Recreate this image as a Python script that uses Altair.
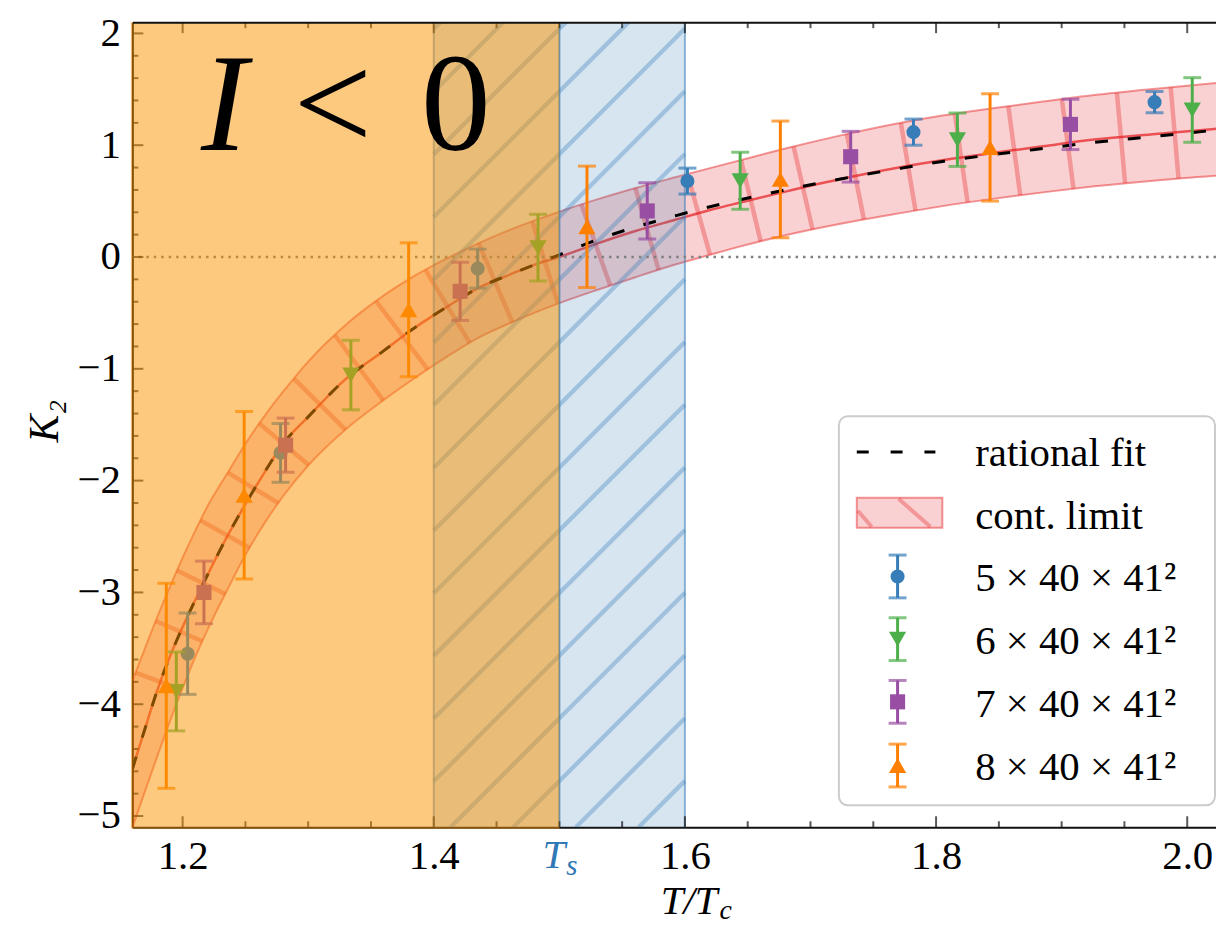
import numpy as np
import pandas as pd
import altair as alt

# ---------------- values ----------------
series_names = ["5 × 40 × 41²", "6 × 40 × 41²", "7 × 40 × 41²", "8 × 40 × 41²"]
series_colors = ["#377eb8", "#4daf4a", "#984ea3", "#ff7f00"]
series_shapes = ["circle", "triangle-down", "square", "triangle-up"]
series_sizes = [200, 300, 230, 300]

temp_5 = [1.204, 1.278, 1.435, 1.602, 1.782, 1.974]
k2_5 = [-3.548, -1.752, -0.104, 0.679, 1.117, 1.385]
err_5 = [0.364, 0.263, 0.175, 0.116, 0.117, 0.095]

temp_6 = [1.195, 1.334, 1.483, 1.644, 1.817, 2.004]
k2_6 = [-3.885, -1.056, 0.084, 0.682, 1.049, 1.315]
err_6 = [0.353, 0.311, 0.298, 0.255, 0.239, 0.289]

temp_7 = [1.217, 1.282, 1.421, 1.570, 1.732, 1.907]
k2_7 = [-3.000, -1.683, -0.307, 0.412, 0.897, 1.186]
err_7 = [0.280, 0.242, 0.260, 0.252, 0.227, 0.225]

temp_8 = [1.187, 1.249, 1.380, 1.522, 1.676, 1.843]
k2_8 = [-3.835, -2.131, -0.472, 0.270, 0.694, 0.980]
err_8 = [0.917, 0.749, 0.599, 0.543, 0.522, 0.480]

# continuum-limit band (centre, upper, lower) and rational fit
band_x = [1.16, 1.17, 1.18, 1.19, 1.20, 1.21, 1.22, 1.235, 1.25, 1.265, 1.28, 1.30,
          1.33, 1.36, 1.38, 1.41, 1.435, 1.46, 1.48, 1.50, 1.53, 1.56, 1.593, 1.62,
          1.645, 1.68, 1.725, 1.765, 1.805, 1.845, 1.885, 1.926, 1.975, 2.027]
band_mid = [-4.58, -4.22, -3.87, -3.57, -3.31, -3.07, -2.84, -2.51, -2.21, -1.93, -1.67, -1.43,
            -1.09, -0.84, -0.67, -0.45, -0.28, -0.16, -0.07, 0.0, 0.12, 0.23, 0.335, 0.42,
            0.49, 0.585, 0.70, 0.79, 0.865, 0.93, 0.99, 1.05, 1.10, 1.15]
band_hi = [-3.79, -3.50, -3.215, -2.945, -2.69, -2.45, -2.225, -1.945, -1.67, -1.425, -1.205,
           -0.935, -0.605, -0.345, -0.20, -0.015, 0.12, 0.24, 0.325, 0.405, 0.515, 0.615,
           0.715, 0.795, 0.868, 0.97, 1.09, 1.185, 1.265, 1.33, 1.39, 1.448, 1.505, 1.56]
band_lo = [-5.105, -4.78, -4.46, -4.15, -3.855, -3.58, -3.33, -2.99, -2.665, -2.385, -2.14,
           -1.865, -1.54, -1.28, -1.12, -0.895, -0.725, -0.595, -0.50, -0.413, -0.295, -0.183,
           -0.065, 0.02, 0.097, 0.195, 0.30, 0.38, 0.455, 0.52, 0.578, 0.632, 0.685, 0.73]
fit_x = band_x
fit_y = [-4.58, -4.22, -3.87, -3.57, -3.31, -3.07, -2.84, -2.51, -2.21, -1.93, -1.67, -1.43,
         -1.09, -0.84, -0.67, -0.45, -0.28, -0.16, -0.07, 0.02, 0.155, 0.265, 0.37, 0.45,
         0.515, 0.60, 0.70, 0.78, 0.855, 0.915, 0.97, 1.025, 1.08, 1.14]

T_s = 1.5
span_lo, span_hi = 1.4, 1.6
x_tick_labels = [1.2, 1.4, 1.6, 1.8, 2.0]
x_minor = [1.25, 1.3, 1.35, 1.45, 1.5, 1.55, 1.65, 1.7, 1.75, 1.85, 1.9, 1.95]
y_tick_labels = [-5, -4, -3, -2, -1, 0, 1, 2]
y_minor = [round(-5 + 0.2 * i, 1) for i in range(36) if i % 5 != 0]

legend_labels = ["rational fit", "cont. limit"] + series_names

# ---------------- layout ----------------
FONT = "Liberation Serif"
FS = 41
W, H = 1089, 809
PAD_L, PAD_T = 125, 12
OX, OY = 8 + PAD_L, 8 + PAD_T          # page position of the plot origin
XDOM = [1.16, 1.16 + W / 1262.0]
YDOM = [-5.1, 2.1]


def px_x(v):
    return (np.asarray(v, float) - XDOM[0]) / (XDOM[1] - XDOM[0]) * W


def px_y(v):
    return (YDOM[1] - np.asarray(v, float)) / (YDOM[1] - YDOM[0]) * H


def dx(p):
    return float(XDOM[0] + p / W * (XDOM[1] - XDOM[0]))


def dy(p):
    return float(YDOM[1] - p / H * (YDOM[1] - YDOM[0]))


xs = alt.Scale(domain=XDOM, nice=False, zero=False)
ys = alt.Scale(domain=YDOM, nice=False, zero=False)


def X(f, axis=None):
    return alt.X(f, type="quantitative", scale=xs, axis=axis)


def Y(f, axis=None):
    return alt.Y(f, type="quantitative", scale=ys, axis=axis)


# ---------------- hatch geometry (decoration) ----------------
def band_hatch(spacing=54.0, ref=(886.0, 126.0)):
    bx = np.asarray(band_x)
    dense = np.linspace(bx[0], bx[-1], 4000)
    mx, my = px_x(dense), px_y(np.interp(dense, bx, band_mid))
    ux, uy = px_x(dense), px_y(np.interp(dense, bx, band_hi))
    lx, ly = px_x(dense), px_y(np.interp(dense, bx, band_lo))
    s = np.concatenate([[0.0], np.cumsum(np.hypot(np.diff(mx), np.diff(my)))])
    iref = int(np.argmin(np.hypot(mx - ref[0], my - ref[1])))
    phase = s[iref] % spacing

    def cross(ex, ey, P, T):
        d = (ex - P[0]) * T[0] + (ey - P[1]) * T[1]
        idx = np.where(np.sign(d[:-1]) != np.sign(d[1:]))[0]
        if len(idx) == 0:
            return None
        j = min(idx, key=lambda k: np.hypot(ex[k] - P[0], ey[k] - P[1]))
        t = d[j] / (d[j] - d[j + 1])
        return ex[j] + t * (ex[j + 1] - ex[j]), ey[j] + t * (ey[j + 1] - ey[j])

    rows = []
    for sk in np.arange(phase, s[-1], spacing):
        i = int(np.clip(np.searchsorted(s, sk), 1, len(s) - 2))
        P = (mx[i], my[i])
        T = np.array([mx[i + 1] - mx[i - 1], my[i + 1] - my[i - 1]])
        T = T / np.hypot(*T)
        a = cross(ux, uy, P, T)
        b = cross(lx, ly, P, T)
        if a is None or b is None:
            continue
        rows.append({"x": dx(a[0]), "y": dy(a[1]), "x2": dx(b[0]), "y2": dy(b[1])})
    return pd.DataFrame(rows)


def rect_hatch(xa, xb, c0=498.7, step=63.0):
    pa, pb = float(px_x(xa)), float(px_x(xb))
    rows = []
    k0 = int(np.floor((pa - c0) / step)) - 1
    k1 = int(np.ceil((pb + H - c0) / step)) + 1
    for k in range(k0, k1 + 1):
        c = c0 + k * step
        lo, hi = max(pa, c - H), min(pb, c)
        if hi - lo > 1:
            rows.append({"x": dx(lo), "y": dy(c - lo), "x2": dx(hi), "y2": dy(c - hi)})
    return pd.DataFrame(rows)


# ---------------- axes ----------------
bottom_axis = alt.Axis(orient="bottom", values=x_tick_labels, format=".1f", ticks=False,
                       domain=True, domainColor="#111111", domainWidth=2, grid=False,
                       labelFont=FONT, labelFontSize=FS, labelColor="black", labelPadding=9,
                       labelOverlap=False, labelFlush=False, title=None)
top_axis = alt.Axis(orient="top", labels=False, ticks=False, domain=True, domainColor="#111111",
                    domainWidth=2, grid=False, title=None, zindex=1)
left_axis = alt.Axis(orient="left", values=y_tick_labels, format="d", ticks=False, domain=True,
                     domainColor="#111111", domainWidth=2, grid=False, labelFont=FONT,
                     labelFontSize=FS, labelColor="black", labelPadding=12, labelOverlap=False,
                     labelFlush=False, title="K₂", titleFont=FONT, titleFontSize=42,
                     titleFontStyle="italic", titleFontWeight="normal", titleColor="black",
                     titleX=-88, titleY=H / 2 - 4, titleAngle=270, titleAlign="center",
                     titleBaseline="middle")

# ---------------- layers ----------------
band_df = pd.DataFrame({"x": band_x, "lo": band_lo, "hi": band_hi, "mid": band_mid})
fit_df = pd.DataFrame({"x": fit_x, "y": fit_y})

layers = []
layers.append(alt.Chart(band_df).mark_area(color="#e41a1c", opacity=0.2, interpolate="monotone",
                                            clip=True)
              .encode(x=X("x", bottom_axis), y=Y("lo", left_axis), y2="hi"))
for col in ["hi", "lo"]:
    layers.append(alt.Chart(band_df).mark_line(color="#e41a1c", opacity=0.45, strokeWidth=2,
                                                interpolate="monotone", clip=True)
                  .encode(x=X("x"), y=Y(col)))
layers.append(alt.Chart(band_hatch()).mark_rule(color="#e41a1c", opacity=0.32, strokeWidth=4.5,
                                                 clip=True)
              .encode(x=X("x"), y=Y("y"), x2="x2", y2="y2"))
layers.append(alt.Chart(band_df).mark_line(color="#e41a1c", opacity=0.7, strokeWidth=2.5,
                                            interpolate="monotone", clip=True)
              .encode(x=X("x"), y=Y("mid")))

# blue span between 1.4 and 1.6
span_df = pd.DataFrame({"x": [span_lo], "x2": [span_hi], "y": [YDOM[0]], "y2": [YDOM[1]]})
layers.append(alt.Chart(span_df).mark_rect(color="#377eb8", opacity=0.2)
              .encode(x=X("x"), x2="x2", y=Y("y"), y2="y2"))
layers.append(alt.Chart(rect_hatch(span_lo, span_hi)).mark_rule(color="#377eb8", opacity=0.35,
                                                                 strokeWidth=4.3, clip=True)
              .encode(x=X("x"), y=Y("y"), x2="x2", y2="y2"))
layers.append(alt.Chart(pd.DataFrame({"x": [span_lo, span_hi]}))
              .mark_rule(color="#377eb8", opacity=0.55, strokeWidth=2).encode(x=X("x")))

# zero line and rational fit
layers.append(alt.Chart(pd.DataFrame({"y": [0.0]}))
              .mark_rule(color="#808080", strokeDash=[2.5, 5], strokeWidth=2.3).encode(y=Y("y")))
layers.append(alt.Chart(fit_df).mark_line(color="black", strokeDash=[13, 20], strokeWidth=3,
                                           interpolate="monotone", clip=True)
              .encode(x=X("x"), y=Y("y")))

# data with error bars
all_sets = [(temp_5, k2_5, err_5), (temp_6, k2_6, err_6), (temp_7, k2_7, err_7),
            (temp_8, k2_8, err_8)]
for (tx, ky, ee), col, shp, sz in zip(all_sets, series_colors, series_shapes, series_sizes):
    df = pd.DataFrame({"x": tx, "y": ky, "lo": np.array(ky) - np.array(ee),
                       "hi": np.array(ky) + np.array(ee)})
    base = alt.Chart(df)
    layers.append(base.mark_rule(color=col, strokeWidth=3).encode(x=X("x"), y=Y("lo"), y2="hi"))
    for c in ["lo", "hi"]:
        layers.append(base.mark_tick(orient="horizontal", size=18, thickness=3, color=col)
                      .encode(x=X("x"), y=Y(c)))
    layers.append(base.mark_point(shape=shp, size=sz, filled=True, color=col, opacity=1)
                  .encode(x=X("x"), y=Y("y")))

# T_s line (carries the top frame axis)
layers.append(alt.Chart(pd.DataFrame({"x": [T_s]}))
              .mark_rule(color="#377eb8", opacity=0.8, strokeWidth=2).encode(x=X("x", top_axis)))

# inward ticks
for vals, size in [(x_tick_labels, 11), (x_minor, 6)]:
    d = alt.Chart(pd.DataFrame({"x": vals}))
    layers.append(d.mark_tick(orient="vertical", size=size, thickness=2, color="#111111")
                  .encode(x=X("x"), y=alt.value(H - size / 2)))
    layers.append(d.mark_tick(orient="vertical", size=size, thickness=2, color="#111111")
                  .encode(x=X("x"), y=alt.value(size / 2)))
for vals, size in [(y_tick_labels, 11), (y_minor, 6)]:
    layers.append(alt.Chart(pd.DataFrame({"y": vals}))
                  .mark_tick(orient="horizontal", size=size, thickness=2, color="#111111")
                  .encode(y=Y("y"), x=alt.value(size / 2)))

# orange overlay (I < 0 region), drawn above everything in it
ov_df = pd.DataFrame({"x": [dx(-1.5)], "x2": [T_s], "y": [dy(H + 1.5)], "y2": [YDOM[1]]})
layers.append(alt.Chart(ov_df).mark_rect(color="#fb9300", opacity=0.5)
              .encode(x=X("x"), x2="x2", y=Y("y"), y2="y2"))

# "I < 0" annotation
ann_df = pd.DataFrame({"t": ["I", "<", "0"],
                       "x": [dx(202 - OX), dx(295 - OX), dx(423 - OX)],
                       "y": [dy(148 - OY)] * 3})
layers.append(alt.Chart(ann_df.iloc[[0]]).mark_text(font=FONT, fontSize=140, fontStyle="italic",
                                                     align="left", baseline="alphabetic",
                                                     color="black")
              .encode(x=X("x"), y=Y("y"), text="t:N"))
layers.append(alt.Chart(ann_df.iloc[[1, 2]]).mark_text(font=FONT, fontSize=140, align="left",
                                                        baseline="alphabetic", color="black")
              .encode(x=X("x"), y=Y("y"), text="t:N"))

# ---------------- legend (laid out in page pixels, drawn through the scales) ----------------
leg_box = pd.DataFrame({"x": [dx(843 - OX)], "x2": [dx(1221 - OX)],
                        "y": [dy(416 - OY)], "y2": [dy(807 - OY)]})
layers.append(alt.Chart(leg_box).mark_rect(cornerRadius=9, fill="white", fillOpacity=0.85,
                                           stroke="#cccccc", strokeWidth=2)
              .encode(x=X("x"), x2="x2", y=Y("y"), y2="y2"))
row_c = [453, 515, 577, 640, 703, 767]
row_base = [466, 529, 592, 655, 718, 782]
sym_x, txt_x = 902, 980
leg_txt = pd.DataFrame({"t": legend_labels, "x": [dx(txt_x - OX)] * 6,
                        "y": [dy(b - OY) for b in row_base]})
layers.append(alt.Chart(leg_txt).mark_text(font=FONT, fontSize=FS, align="left",
                                           baseline="alphabetic", color="black")
              .encode(x=X("x"), y=Y("y"), text="t:N"))
layers.append(alt.Chart(pd.DataFrame({"x": [dx(861 - OX)], "x2": [dx(940 - OX)],
                                      "y": [dy(row_c[0] - 1 - OY)]}))
              .mark_rule(color="black", strokeWidth=3, strokeDash=[12, 22])
              .encode(x=X("x"), x2="x2", y=Y("y")))
layers.append(alt.Chart(pd.DataFrame({"x": [dx(861 - OX)], "x2": [dx(947 - OX)],
                                      "y": [dy(498 - OY)], "y2": [dy(528 - OY)]}))
              .mark_rect(fill="#e41a1c", fillOpacity=0.2, stroke="#e41a1c", strokeOpacity=0.45,
                         strokeWidth=2)
              .encode(x=X("x"), x2="x2", y=Y("y"), y2="y2"))
layers.append(alt.Chart(pd.DataFrame({"x": [dx(862 - OX), dx(903 - OX)],
                                      "y": [dy(511 - OY), dy(499 - OY)],
                                      "x2": [dx(876 - OX), dx(935 - OX)],
                                      "y2": [dy(527 - OY), dy(527 - OY)]}))
              .mark_rule(color="#e41a1c", opacity=0.32, strokeWidth=4)
              .encode(x=X("x"), y=Y("y"), x2="x2", y2="y2"))
for r, col, shp, sz in zip(row_c[2:], series_colors, series_shapes, series_sizes):
    d = pd.DataFrame({"x": [dx(sym_x - OX)], "y": [dy(r - OY)],
                      "lo": [dy(r + 21.5 - OY)], "hi": [dy(r - 21.5 - OY)]})
    b = alt.Chart(d)
    layers.append(b.mark_rule(color=col, strokeWidth=3).encode(x=X("x"), y=Y("lo"), y2="hi"))
    for c in ["lo", "hi"]:
        layers.append(b.mark_tick(orient="horizontal", size=18, thickness=3, color=col)
                      .encode(x=X("x"), y=Y(c)))
    layers.append(b.mark_point(shape=shp, size=sz, filled=True, color=col, opacity=1)
                  .encode(x=X("x"), y=Y("y")))

# ---------------- x title and the T_s tick label ----------------
one = pd.DataFrame({"x": [T_s]})
layers.append(alt.Chart(one.assign(t="T")).mark_text(font=FONT, fontSize=FS, fontStyle="italic",
                                                     align="right", baseline="alphabetic",
                                                     color="#2f78b5", dx=6)
              .encode(x=X("x"), y=alt.value(H + 41), text="t:N"))
layers.append(alt.Chart(one.assign(t="s")).mark_text(font=FONT, fontSize=29, fontStyle="italic",
                                                     align="left", baseline="alphabetic",
                                                     color="#2f78b5", dx=7)
              .encode(x=X("x"), y=alt.value(H + 48), text="t:N"))
layers.append(alt.Chart(pd.DataFrame({"t": ["T/T"]})).mark_text(
    font=FONT, fontSize=41, fontStyle="italic", align="right", baseline="alphabetic",
    color="black").encode(x=alt.value(721 - OX), y=alt.value(916 - OY), text="t:N"))
layers.append(alt.Chart(pd.DataFrame({"t": ["c"]})).mark_text(
    font=FONT, fontSize=28, fontStyle="italic", align="left", baseline="alphabetic",
    color="black").encode(x=alt.value(723 - OX), y=alt.value(921 - OY), text="t:N"))

chart = (alt.layer(*layers)
         .resolve_axis(x="independent", y="independent")
         .properties(width=W, height=H, autosize=alt.AutoSizeParams(type="none"),
                     padding={"left": PAD_L, "top": PAD_T, "right": 0, "bottom": 98},
                     background="white")
         .configure_view(stroke=None))

chart.save("out.html", embed_options={"renderer": "svg", "actions": False})
